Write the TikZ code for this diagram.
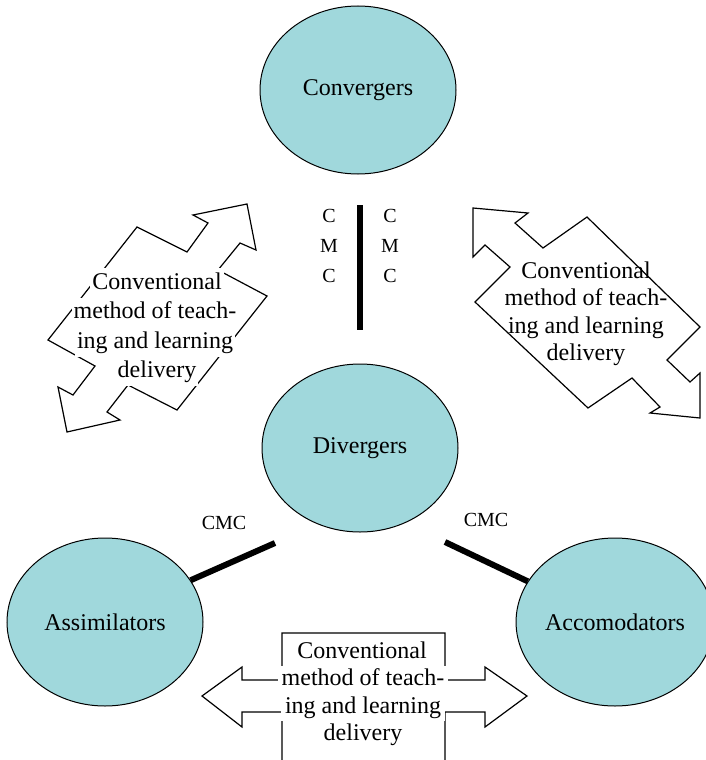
\documentclass[tikz,border=0pt]{standalone}
\usepackage{fontspec}
\setmainfont{Liberation Serif}
\usetikzlibrary{shapes.geometric}
\definecolor{blobfill}{RGB}{160,216,220}
\begin{document}
\begin{tikzpicture}[x=1pt,y=-1pt,
  blob/.style={ellipse,draw=black,line width=1pt,fill=blobfill,minimum width=196pt,minimum height=168pt,inner sep=0pt,font=\fontsize{24}{28}\selectfont},
  callout/.style={draw=black,line width=1.2pt,fill=white,line join=miter},
  calltext/.style={align=center,inner sep=0pt},
  lineleft/.style={anchor=base,fill=white,inner xsep=2pt,inner ysep=0pt,text height=21pt,text depth=8.5pt,font=\fontsize{24}{29.5}\selectfont},
  linebot/.style={anchor=base,fill=white,inner xsep=4pt,inner ysep=0pt,text height=20pt,text depth=7.5pt,font=\fontsize{24}{27.5}\selectfont},
  cmclabel/.style={font=\fontsize{20}{30}\selectfont,inner sep=0pt,align=center},
  link/.style={line width=6pt}]
\useasboundingbox (0,0) rectangle (706,760);
\clip (0,0) rectangle (706,760);

% ellipses
\node[blob] (conv) at (358,90) {Convergers};
\node[blob] (div) at (360,448) {Divergers};
\node[blob] (assim) at (105,622) {Assimilators};
\node[blob] (accom) at (615,622) {Accomodators};

% CMC links
\coordinate (v1) at (360,205);
\coordinate (v2) at (360,330);
\draw[line width=5.5pt] (v1) -- (v2);
\coordinate (l1) at (275,543);
\draw[link] (assim.26) -- (l1);
\coordinate (r1) at (445,542);
\draw[link] (r1) -- (accom.155);

\node[cmclabel] (cmcl) at (329,246) {C\\M\\C};
\node[cmclabel] (cmcr) at (390,246) {C\\M\\C};
\node[cmclabel] (cmca) at (224,523) {CMC};
\node[cmclabel] (cmcb) at (486,520) {CMC};

% left diagonal callout
\draw[callout] (137,227) -- (187,252) -- (208,223) -- (193,215) -- (247,204) -- (256,250) -- (240,243) -- (218,270) -- (267,296) -- (177,410) -- (128,385) -- (107,412) -- (120,420) -- (67,432) -- (58,387) -- (73,395) -- (95,366) -- (48,340) -- cycle;
\node[lineleft] (tl1) at (157,289.4) {Conventional};
\node[lineleft] (tl2) at (155,318.9) {method of teach-};
\node[lineleft] (tl3) at (155,348.4) {ing and learning};
\node[lineleft] (tl4) at (157,377.9) {delivery};

% right diagonal callout
\draw[callout] (473,208) -- (528,213) -- (515,223) -- (543,248) -- (587,217) -- (700,327) -- (667,360) -- (690,382) -- (700,373) -- (700,418) -- (650,413) -- (660,407) -- (632,378) -- (588,408) -- (475,302) -- (510,267) -- (485,245) -- (473,257) -- cycle;
\node[calltext,font=\fontsize{24}{27.5}\selectfont] (tright) at (586,314) {Conventional\\method of teach-\\ing and learning\\delivery};

% bottom horizontal callout
\draw[callout] (282,633) -- (445,633) -- (445,680) -- (485,680) -- (485,667) -- (527,696) -- (485,727) -- (485,712) -- (445,712) -- (445,775) -- (282,775) -- (282,712) -- (242,712) -- (242,727) -- (202,696) -- (242,667) -- (242,680) -- (282,680) -- cycle;
\node[linebot] (tb1) at (362,658.4) {Conventional};
\node[linebot] (tb2) at (363,685.9) {method of teach-};
\node[linebot] (tb3) at (363,713.4) {ing and learning};
\node[linebot] (tb4) at (363,740.9) {delivery};
\end{tikzpicture}
\end{document}
